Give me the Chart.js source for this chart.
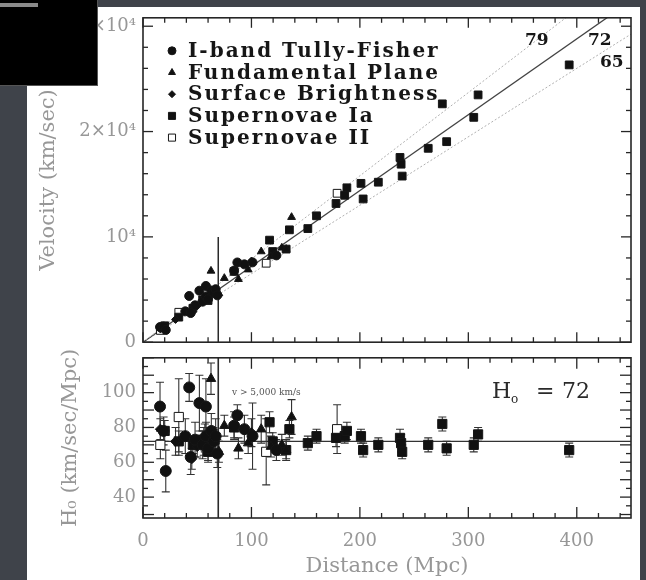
<!DOCTYPE html>
<html>
<head>
<meta charset="utf-8">
<script src="https://cdn.jsdelivr.net/npm/chart.js@4.4.1/dist/chart.umd.min.js"></script>
<style>
  html, body { margin: 0; padding: 0; }
  body { width: 646px; height: 580px; background: #3f434a; position: relative; overflow: hidden; }
  #sheet { position: absolute; left: 27px; top: 7px; width: 613px; height: 573px; background: #fff; }
  canvas { filter: blur(0.45px); }
  #topChart { position: absolute; left: 0; top: 0; }
  #botChart { position: absolute; left: 0; top: 340px; }
  #cover { position: absolute; left: 0; top: 0; width: 97px; height: 85px; background: #000; border-right: 1px solid #555; border-bottom: 1px solid #555; }
  #cover .bar { position: absolute; left: 0; top: 3px; width: 38px; height: 4px; background: #8a8a8a; }
</style>
</head>
<body>
<div id="sheet"></div>
<canvas id="topChart" width="646" height="360"></canvas>
<canvas id="botChart" width="646" height="240"></canvas>
<div id="cover"><div class="bar"></div></div>
<script>
// ---- values ----
const xTickVals = [0, 100, 200, 300, 400];
const velTickVals = [0, 10000, 20000, 30000];
const velTickText = ['0', '10⁴', '2×10⁴', '3×10⁴'];
const hTickVals = [40, 60, 80, 100];

const fitLines = [79, 72, 65];   // H0 lines in the upper panel
const hFit = 72;                 // line in the lower panel
const cutDist = 69.4;            // v = 5,000 km/s marker
const cutVel = 10000;

const methodNames = ['I-band Tully-Fisher', 'Fundamental Plane', 'Surface Brightness', 'Supernovae Ia', 'Supernovae II'];

// Tully-Fisher
const tfDist = [15.7, 19, 21, 39, 42.6, 44, 48, 52, 55, 58, 58, 60, 63, 65, 67, 68.5, 84, 87, 93.5, 101, 123];
const tfVel  = [1440, 1480, 1160, 2930, 4390, 2770, 3500, 4890, 3850, 4350, 5340, 4080, 4910, 4680, 5030, 4450, 6800, 7570, 7390, 7580, 8240];
const tfH0   = [92, 78, 55, 75, 103, 63, 73, 94, 70, 75, 92, 68, 78, 72, 75, 65, 81, 87, 79, 75, 67];
const tfErr  = [14, 8, 12, 10, 8, 10, 10, 16, 8, 8, 16, 8, 10, 8, 10, 8, 8, 6, 8, 19, 6];
// Fundamental Plane
const fpDist = [62.7, 109, 137, 75, 88, 97, 118, 128, 56, 70, 132];
const fpVel  = [6770, 8610, 11870, 6080, 5980, 6890, 8140, 8960, 4030, 4620, 8840];
const fpH0   = [108, 79, 86, 81, 68, 71, 69, 70, 72, 66, 67];
const fpErr  = [9, 8, 10, 6, 6, 6, 6, 6, 8, 6, 6];
// Surface Brightness
const sbDist = [16, 30, 45, 50, 57, 100];
const sbVel  = [1260, 2160, 2790, 3450, 4220, 7700];
const sbH0   = [79, 72, 62, 69, 74, 77];
const sbErr  = [6, 8, 6, 6, 8, 8];
// Supernovae Ia
const s1Dist = [20, 33, 46, 55, 60, 66, 84, 116.7, 119.6, 132, 135, 152, 160, 178, 186, 188, 201, 203, 217, 237, 238, 239, 263, 276, 280, 305, 309, 393];
const s1Vel  = [1560, 2380, 3220, 4020, 3960, 4820, 6720, 9690, 8610, 8840, 10670, 10790, 12000, 13170, 13950, 14660, 15080, 13600, 15190, 17540, 16900, 15770, 18410, 22630, 19040, 21350, 23480, 26330];
const s1H0   = [78, 72, 70, 73, 66, 73, 80, 83, 72, 67, 79, 71, 75, 74, 75, 78, 75, 67, 70, 74, 71, 66, 70, 82, 68, 70, 76, 67];
const s1Err  = [6, 6, 5, 5, 5, 6, 6, 6, 5, 5, 5, 4, 4, 5, 4, 5, 4, 4, 4, 5, 5, 4, 4, 4, 4, 4, 4, 4];
// Supernovae II
const s2Dist = [16, 33, 113.6, 179];
const s2Vel  = [1120, 2840, 7500, 14140];
const s2H0   = [70, 86, 66, 79];
const s2Err  = [8, 22, 19, 14];

const methodDist = [tfDist, fpDist, sbDist, s1Dist, s2Dist];
const methodVel  = [tfVel, fpVel, sbVel, s1Vel, s2Vel];
const methodH0   = [tfH0, fpH0, sbH0, s1H0, s2H0];
const methodErr  = [tfErr, fpErr, sbErr, s1Err, s2Err];

// marker looks per method
const markers = [
  { style: 'circle',   r: 4.5, rb: 5.5, fill: '#111' },
  { style: 'triangle', r: 4.5, rb: 5.5, fill: '#111' },
  { style: 'rectRot',  r: 4,   rb: 5,   fill: '#111' },
  { style: 'rect',     r: 5.5, rb: 6.5, fill: '#111' },
  { style: 'rect',     r: 5.5, rb: 6.5, fill: '#fff' }
];

const INK = '#161616';
const LABEL_GREY = '#979797';
const SERIF = '"DejaVu Serif", "Liberation Serif", serif';
const X_MAX = 450;

const toPts = (xs, ys) => xs.map((v, i) => ({ x: v, y: ys[i] }));

// box with inward ticks, drawn from the scales
const frameTicks = {
  id: 'frameTicks',
  afterDatasetsDraw(chart, args, o) {
    const { ctx, chartArea: a, scales: { x, y } } = chart;
    ctx.save();
    ctx.strokeStyle = '#262626';
    ctx.lineWidth = 1.6;
    ctx.strokeRect(a.left, a.top, a.right - a.left, a.bottom - a.top);
    ctx.lineWidth = 1.3;
    const seg = (x1, y1, x2, y2) => { ctx.beginPath(); ctx.moveTo(x1, y1); ctx.lineTo(x2, y2); ctx.stroke(); };
    for (let v = 0; v <= x.max + 0.01; v += o.xStep) {
      const px = x.getPixelForValue(v);
      const len = v % o.xMajor === 0 ? o.majorLen : o.minorLen;
      if (o.top) seg(px, a.top, px, a.top + len);
      seg(px, a.bottom, px, a.bottom - len);
    }
    for (let v = o.yFrom; v <= y.max + 0.01; v += o.yStep) {
      const py = y.getPixelForValue(v);
      const len = (v - o.yFrom) % o.yMajor === 0 ? o.majorLen : o.minorLen;
      seg(a.left, py, a.left + len, py);
      seg(a.right, py, a.right - len, py);
    }
    ctx.restore();
  }
};

const errorBars = {
  id: 'errorBars',
  beforeDatasetsDraw(chart) {
    const { ctx, chartArea: a, scales: { x, y } } = chart;
    ctx.save();
    ctx.beginPath();
    ctx.rect(a.left, a.top, a.right - a.left, a.bottom - a.top);
    ctx.clip();
    ctx.strokeStyle = '#333';
    ctx.lineWidth = 1.1;
    chart.data.datasets.forEach(ds => {
      if (!ds.errors) return;
      ds.data.forEach((p, i) => {
        const e = ds.errors[i];
        const px = x.getPixelForValue(p.x);
        const y1 = y.getPixelForValue(p.y - e);
        const y2 = y.getPixelForValue(p.y + e);
        ctx.beginPath();
        ctx.moveTo(px, y1); ctx.lineTo(px, y2);
        ctx.moveTo(px - 4, y1); ctx.lineTo(px + 4, y1);
        ctx.moveTo(px - 4, y2); ctx.lineTo(px + 4, y2);
        ctx.stroke();
      });
    });
    ctx.restore();
  }
};

// legend inside the upper panel + H0 line labels
const topNotes = {
  id: 'topNotes',
  afterDatasetsDraw(chart) {
    const { ctx, chartArea: a } = chart;
    ctx.save();
    ctx.strokeStyle = INK;
    ctx.textBaseline = 'middle';
    ctx.font = 'bold 20px ' + SERIF;
    ctx.letterSpacing = '2px';
    methodNames.forEach((name, i) => {
      const m = markers[i];
      const yy = a.top + 33 + i * 21.7;
      ctx.fillStyle = m.fill;
      ctx.lineWidth = 1;
      Chart.helpers.drawPoint(ctx, { pointStyle: m.style, radius: m.r - 0.5, borderWidth: 1, rotation: 0 }, a.left + 29, yy);
      ctx.fillStyle = INK;
      ctx.fillText(name, a.left + 45, yy + 1);
    });
    ctx.font = 'bold 17px ' + SERIF;
    ctx.letterSpacing = '0px';
    ctx.fillText(String(fitLines[0]), a.right - 106, a.top + 23);
    ctx.fillText(String(fitLines[1]), a.right - 43, a.top + 23);
    ctx.fillText(String(fitLines[2]), a.right - 31, a.top + 45);
    ctx.restore();
  }
};

const botNotes = {
  id: 'botNotes',
  afterDatasetsDraw(chart) {
    const { ctx, chartArea: a } = chart;
    ctx.save();
    ctx.fillStyle = '#2a2a2a';
    ctx.textBaseline = 'middle';
    ctx.font = '22px ' + SERIF;
    ctx.fillText('H', a.left + 349, a.top + 34);
    ctx.font = '12px ' + SERIF;
    ctx.fillText('o', a.left + 368, a.top + 42);
    ctx.font = '22px ' + SERIF;
    ctx.fillText('=', a.left + 393, a.top + 34);
    ctx.fillText(String(hFit), a.left + 419, a.top + 34);
    ctx.fillStyle = '#555';
    ctx.font = '9px ' + SERIF;
    ctx.fillText('v > 5,000 km/s', a.left + 89, a.top + 35);
    ctx.restore();
  }
};

Chart.defaults.font.family = SERIF;
Chart.defaults.color = LABEL_GREY;

function methodSets(yArrays, big) {
  return methodNames.map((name, i) => ({
    label: name,
    data: toPts(methodDist[i], yArrays[i]),
    errors: big ? methodErr[i] : undefined,
    pointStyle: markers[i].style,
    pointRadius: big ? markers[i].rb : markers[i].r,
    backgroundColor: markers[i].fill,
    borderColor: INK,
    borderWidth: 1,
    clip: 6
  }));
}

// ---------- upper panel: velocity vs distance ----------
const topSets = methodSets(methodVel, false);
fitLines.forEach((h, i) => {
  topSets.push({
    type: 'line',
    label: 'H0 = ' + h,
    data: [{ x: 0, y: 0 }, { x: X_MAX, y: h * X_MAX }],
    borderColor: i === 1 ? '#444' : '#b0b0b0',
    borderWidth: i === 1 ? 1.3 : 1,
    borderDash: i === 1 ? [] : [2, 2],
    pointRadius: 0,
    clip: 0
  });
});
topSets.push({
  type: 'line',
  label: 'cut',
  data: [{ x: cutDist, y: 0 }, { x: cutDist, y: cutVel }],
  borderColor: '#2a2a2a', borderWidth: 1.5, pointRadius: 0, clip: 0
});

new Chart(document.getElementById('topChart'), {
  type: 'scatter',
  data: { datasets: topSets },
  options: {
    responsive: false,
    animation: false,
    devicePixelRatio: 1,
    layout: { padding: { top: 17, right: 15, bottom: 3, left: 0 } },
    plugins: { legend: { display: false }, tooltip: { enabled: false }, frameTicks: { xStep: 20, xMajor: 100, yFrom: 0, yStep: 2000, yMajor: 10000, majorLen: 10, minorLen: 5, top: true } },
    scales: {
      x: { type: 'linear', min: 0, max: X_MAX, display: false },
      y: {
        type: 'linear', min: 0, max: 30800,
        grid: { display: false, drawTicks: false },
        border: { display: false },
        afterBuildTicks: s => { s.ticks = velTickVals.map(v => ({ value: v })); },
        afterFit: s => { s.width = 143; },
        ticks: { padding: 7, color: LABEL_GREY, font: { size: 18 }, callback: (v, i) => velTickText[i] },
        title: { display: true, text: 'Velocity (km/sec)', color: LABEL_GREY, font: { size: 21 }, padding: { top: 36, bottom: 0 } }
      }
    }
  },
  plugins: [frameTicks, topNotes]
});

// ---------- lower panel: H0 vs distance ----------
const botSets = methodSets(methodH0, true);
botSets.push({
  type: 'line', label: 'fit',
  data: [{ x: 0, y: hFit }, { x: X_MAX, y: hFit }],
  borderColor: '#333', borderWidth: 1.3, pointRadius: 0, clip: 0
});
botSets.push({
  type: 'line', label: 'cut',
  data: [{ x: cutDist, y: 0 }, { x: cutDist, y: 200 }],
  borderColor: '#2a2a2a', borderWidth: 1.6, pointRadius: 0
});

new Chart(document.getElementById('botChart'), {
  type: 'scatter',
  data: { datasets: botSets },
  options: {
    responsive: false,
    animation: false,
    devicePixelRatio: 1,
    layout: { padding: { top: 17, right: 15, bottom: 0, left: 0 } },
    plugins: { legend: { display: false }, tooltip: { enabled: false }, frameTicks: { xStep: 20, xMajor: 100, yFrom: 30, yStep: 5, yMajor: 10, majorLen: 11, minorLen: 5, top: true } },
    scales: {
      x: {
        type: 'linear', min: 0, max: X_MAX,
        grid: { display: false, drawTicks: false },
        border: { display: false },
        afterBuildTicks: s => { s.ticks = xTickVals.map(v => ({ value: v })); },
        afterFit: s => { s.height = 62; },
        ticks: { padding: 13, color: LABEL_GREY, font: { size: 18 }, maxRotation: 0 },
        title: { display: true, text: 'Distance (Mpc)', color: LABEL_GREY, font: { size: 21 }, padding: { top: 0, bottom: 1 } }
      },
      y: {
        type: 'linear', min: 28, max: 120,
        grid: { display: false, drawTicks: false },
        border: { display: false },
        afterBuildTicks: s => { s.ticks = hTickVals.map(v => ({ value: v })); },
        afterFit: s => { s.width = 143; },
        ticks: { padding: 7, color: LABEL_GREY, font: { size: 18 } },
        title: { display: true, text: 'H₀ (km/sec/Mpc)', color: LABEL_GREY, font: { size: 21 }, padding: { top: 58, bottom: 0 } }
      }
    }
  },
  plugins: [errorBars, frameTicks, botNotes]
});
</script>
</body>
</html>
